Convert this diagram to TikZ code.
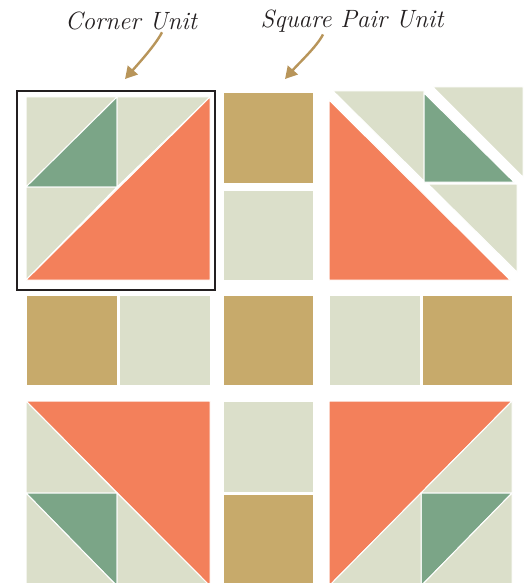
\documentclass[tikz,border=0pt]{standalone}
\usetikzlibrary{arrows.meta}
\definecolor{sage}{HTML}{DBDFCA}
\definecolor{leaf}{HTML}{7BA587}
\definecolor{coral}{HTML}{F3805B}
\definecolor{tan}{HTML}{C7AA6B}
\definecolor{frameink}{HTML}{231F20}
\definecolor{arrowtan}{HTML}{B8955A}
\tikzset{
  piece/.style={draw=white, line width=1pt, line join=miter},
  lt/.style={piece, fill=sage},
  gr/.style={piece, fill=leaf},
  co/.style={piece, fill=coral},
  br/.style={piece, fill=tan},
  lbl/.style={font=\itshape\fontsize{25}{28}\selectfont, inner sep=1pt, text=frameink},
  pointer/.style={draw=arrowtan, line width=2.4pt, -{Triangle[width=13pt,length=12pt]}},
  unitframe/.style={draw=frameink, line width=2pt}
}
\begin{document}
\begin{tikzpicture}[x=1pt,y=-1pt]
\useasboundingbox (0,0) rectangle (527,583);
\fill[white] (0,0) rectangle (527,583);
\begin{scope}
\clip (0,0) rectangle (527,583);
% ---------- top-left corner unit ----------
\filldraw[lt] (26,97) -- (117,97) -- (26,187) -- cycle;
\filldraw[gr] (26,187) -- (117,97) -- (117,187) -- cycle;
\filldraw[lt] (117,97) -- (210,97) -- (117,187) -- cycle;
\filldraw[lt] (26,187) -- (117,187) -- (26,280) -- cycle;
\filldraw[co] (210,97) -- (210,280) -- (26,280) -- cycle;
\draw[unitframe] (17,91) rectangle (215,290);
% ---------- top-right (exploded) ----------
\filldraw[co] (329,100) -- (329,280) -- (510,280) -- cycle;
\filldraw[lt] (333,91) -- (424,91) -- (424,181) -- cycle;
\filldraw[gr] (424,93) -- (424,182) -- (514,182) -- cycle;
\filldraw[lt] (433,87) -- (523,87) -- (523,177) -- cycle;
\filldraw[lt] (428,184) -- (517,184) -- (517,272) -- cycle;
% ---------- center column ----------
\filldraw[br] (223,93) rectangle (313,183);
\filldraw[lt] (223,190) rectangle (313,280);
\filldraw[br] (223,295) rectangle (313,385);
\filldraw[lt] (223,401) rectangle (313,492);
\filldraw[br] (223,494) rectangle (313,586);
% ---------- middle row ----------
\filldraw[br] (26,295) rectangle (117,385);
\filldraw[lt] (119,295) rectangle (210,385);
\filldraw[lt] (329,295) rectangle (420,385);
\filldraw[br] (422,295) rectangle (512,385);
% ---------- bottom-left corner unit ----------
\filldraw[co] (26,401) -- (210,401) -- (210,586) -- cycle;
\filldraw[lt] (26,401) -- (117,493) -- (26,493) -- cycle;
\filldraw[gr] (26,493) -- (117,493) -- (117,586) -- cycle;
\filldraw[lt] (26,493) -- (117,586) -- (26,586) -- cycle;
\filldraw[lt] (117,493) -- (210,586) -- (117,586) -- cycle;
% ---------- bottom-right corner unit ----------
\filldraw[co] (329,401) -- (512,401) -- (329,586) -- cycle;
\filldraw[lt] (512,401) -- (512,493) -- (421,493) -- cycle;
\filldraw[gr] (421,493) -- (512,493) -- (421,586) -- cycle;
\filldraw[lt] (512,493) -- (512,586) -- (421,586) -- cycle;
\filldraw[lt] (421,493) -- (421,586) -- (329,586) -- cycle;
\end{scope}
% ---------- labels and pointers ----------
\node[lbl] (cornerlbl) at (131,21) {Corner Unit};
\node[lbl] (pairlbl) at (352,21) {Square Pair Unit};
\coordinate (cornertip) at (125,79);
\coordinate (pairtip) at (285,79);
\draw[pointer] ([xshift=31pt,yshift=-1pt]cornerlbl.south) .. controls +(-6,12) and +(14,-16) .. (cornertip);
\draw[pointer] ([xshift=-29pt,yshift=-1pt]pairlbl.south) .. controls +(-6,12) and +(14,-16) .. (pairtip);
\end{tikzpicture}
\end{document}
